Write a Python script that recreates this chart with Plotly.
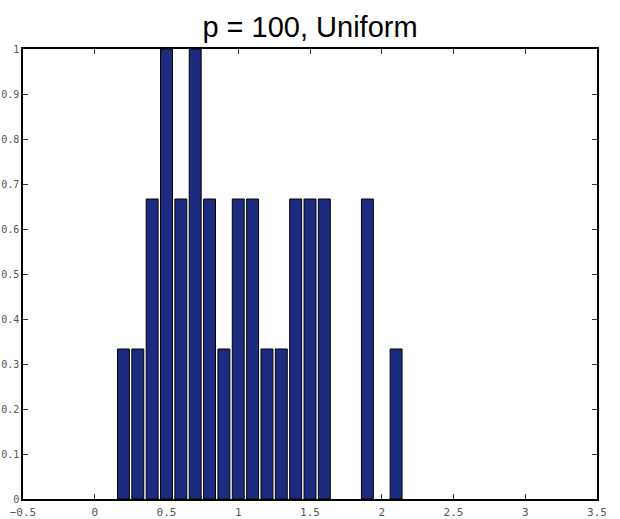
import plotly.graph_objects as go

bin_centers = [0.2, 0.3, 0.4, 0.5, 0.6, 0.7, 0.8, 0.9, 1.0, 1.1, 1.2, 1.3, 1.4, 1.5, 1.6, 1.9, 2.1]
counts = [1/3, 1/3, 2/3, 1, 2/3, 1, 2/3, 1/3, 2/3, 2/3, 1/3, 1/3, 2/3, 2/3, 2/3, 2/3, 1/3]
x_ticks = [-0.5, 0, 0.5, 1, 1.5, 2, 2.5, 3, 3.5]
x_tick_labels = ["\u22120.5", "0", "0.5", "1", "1.5", "2", "2.5", "3", "3.5"]
y_ticks = [0, 0.1, 0.2, 0.3, 0.4, 0.5, 0.6, 0.7, 0.8, 0.9, 1]
y_tick_labels = ["0", "0.1", "0.2", "0.3", "0.4", "0.5", "0.6", "0.7", "0.8", "0.9", "1"]
title_text = "p = 100, Uniform"

fig = go.Figure()
fig.add_trace(go.Bar(
    x=bin_centers, y=counts, width=0.083,
    marker=dict(color="#1c2a80", line=dict(color="black", width=1)),
))

x_tick_font = dict(family="DejaVu Sans Mono", size=11, color="#555555")
y_tick_font = dict(family="DejaVu Sans Mono", size=10, color="#555555")
fig.update_layout(
    width=620, height=519,
    margin=dict(l=23, r=23, t=49, b=20),
    paper_bgcolor="white", plot_bgcolor="white",
    showlegend=False,
    title=dict(text=title_text, x=0.5, xanchor="center", y=1 - 27/519, yanchor="middle",
               yref="container",
               font=dict(family="Liberation Sans, Arial", size=29, color="black")),
    xaxis=dict(range=[-0.5, 3.5], tickvals=x_ticks, ticktext=x_tick_labels,
               ticks="inside", ticklen=5, tickcolor="#333", mirror="ticks",
               showline=True, linecolor="black", linewidth=1.5,
               showgrid=False, zeroline=False, tickfont=x_tick_font,
               automargin=False, ticklabelstandoff=2),
    yaxis=dict(range=[0, 1], tickvals=y_ticks, ticktext=y_tick_labels,
               ticks="inside", ticklen=5, tickcolor="#333", mirror="ticks",
               showline=True, linecolor="black", linewidth=1.5,
               showgrid=False, zeroline=False, tickfont=y_tick_font,
               automargin=False, ticklabelstandoff=0),
)
fig.write_html("out.html")
